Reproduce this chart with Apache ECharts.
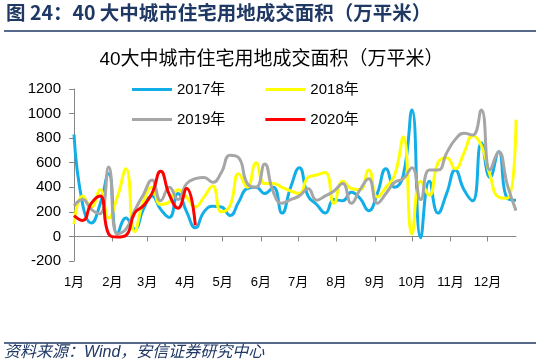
<!DOCTYPE html>
<html><head><meta charset="utf-8">
<script src="https://cdn.jsdelivr.net/npm/echarts@6/dist/echarts.min.js"></script>
<style>html,body{margin:0;padding:0;background:#fff}#c{width:543px;height:361px}</style>
</head><body><div id="c"></div>
<script>
const headerText = '图 24：40 大中城市住宅用地成交面积（万平米）';
const chartTitle = '40大中城市住宅用地成交面积（万平米）';
const sourceText = '资料来源：Wind，安信证券研究中心';
const months = ['1月','2月','3月','4月','5月','6月','7月','8月','9月','10月','11月','12月'];
const monthStartDays = [0,31,59,90,120,151,181,212,243,273,304,334];
const seriesNames = ['2017年','2018年','2019年','2020年'];
const s2017 = [830,260,110,260,510,20,150,60,220,330,220,155,350,200,70,200,245,240,170,280,390,400,350,400,190,400,560,330,260,190,300,290,360,310,210,350,550,400,500,1030,-10,450,190,350,540,380,290,760,480,690,310,295];
const s2018 = [100,330,240,380,150,320,550,40,280,400,260,280,380,320,240,320,410,200,250,510,400,600,430,430,400,370,350,480,500,520,270,450,390,380,540,320,400,500,810,20,450,335,600,640,550,680,820,740,500,320,310,950];
const s2019 = [250,300,220,185,566,20,60,210,340,460,290,400,300,430,470,480,440,520,660,640,430,400,590,360,270,300,330,390,295,330,370,430,270,380,470,270,350,440,470,560,300,540,540,680,790,840,825,1030,540,690,420,210];
const s2020 = [170,130,270,330,20,-5,10,190,250,350,530,340,230,390,90];
const yMin = -200, yMax = 1200, yStep = 200;

const tickWeeks = monthStartDays.map(d => d / 7);
const colors = ['#12AEE8', '#FFFF00', '#A6A6A6', '#FF0000'];
const allData = [s2017, s2018, s2019, s2020];
const weekCount = s2017.length;

function monthIndex(v) {
  let best = 0, bd = Infinity;
  tickWeeks.forEach((t, i) => { const d = Math.abs(t - v); if (d < bd) { bd = d; best = i; } });
  return best;
}

const chart = echarts.init(document.getElementById('c'), null, {renderer: 'canvas'});
const axisColor = '#868686';
const legendBase = {left: 127, itemWidth: 40, itemHeight: 3, itemGap: 40, icon: 'rect',
  textStyle: {fontSize: 15, color: '#000'}};
chart.setOption({
  animation: false,
  textStyle: {fontFamily: "'Liberation Sans','Noto Sans CJK SC',sans-serif"},
  title: [
    {text: headerText, left: 6, top: 3, padding: 0,
     textStyle: {fontSize: 19.5, fontWeight: 'bold', color: '#1F3864', fontFamily: "'Noto Sans CJK SC','Liberation Sans',sans-serif"}},
    {text: chartTitle, left: 'center', top: 50, padding: 0,
     textStyle: {fontSize: 19, fontWeight: 'normal', color: '#000', fontFamily: "'Liberation Sans','Noto Sans CJK SC',sans-serif"}},
    {text: sourceText, left: 4, top: 345, padding: 0,
     textStyle: {fontSize: 16, fontWeight: 'normal', fontStyle: 'italic', color: '#1F3864', fontFamily: "'Liberation Sans','Noto Sans CJK SC',sans-serif"}}
  ],
  graphic: [
    {type: 'line', shape: {x1: 4, y1: 31, x2: 536, y2: 31}, style: {stroke: '#1F3864', lineWidth: 1.5}},
    {type: 'line', shape: {x1: 4, y1: 343, x2: 536, y2: 343}, style: {stroke: '#1F3864', lineWidth: 1.5}}
  ],
  legend: [
    Object.assign({data: seriesNames.slice(0, 2), top: 77}, legendBase),
    Object.assign({data: seriesNames.slice(2, 4), top: 107}, legendBase)
  ],
  grid: {left: 74, right: 27, top: 89, bottom: 100, containLabel: false},
  xAxis: [
    {type: 'value', min: 0, max: weekCount - 1,
     axisLine: {show: true, onZero: true, lineStyle: {color: axisColor, width: 1}},
     axisTick: {show: true, customValues: tickWeeks, length: 5, lineStyle: {color: axisColor}},
     axisLabel: {show: false}, splitLine: {show: false}},
    {type: 'value', min: 0, max: weekCount - 1, position: 'bottom',
     axisLine: {show: false, onZero: false}, axisTick: {show: false}, splitLine: {show: false},
     axisLabel: {show: true, customValues: tickWeeks, fontSize: 13, margin: 15, color: '#000',
       showMinLabel: true, showMaxLabel: true,
       formatter: v => months[monthIndex(v)]}}
  ],
  yAxis: {type: 'value', min: yMin, max: yMax, interval: yStep,
    axisLine: {show: true, lineStyle: {color: axisColor, width: 1}},
    axisTick: {show: true, length: 5, lineStyle: {color: axisColor}},
    axisLabel: {fontSize: 15, margin: 13, color: '#000', formatter: v => String(v)},
    splitLine: {show: false}},
  series: allData.map((arr, k) => ({
    name: seriesNames[k], type: 'line', xAxisIndex: 0, smooth: 0.5, symbol: 'none',
    data: arr.map((v, i) => [i, v]),
    lineStyle: {width: 3, color: colors[k]}, itemStyle: {color: colors[k]}, z: 2 + k
  }))
});
</script></body></html>
